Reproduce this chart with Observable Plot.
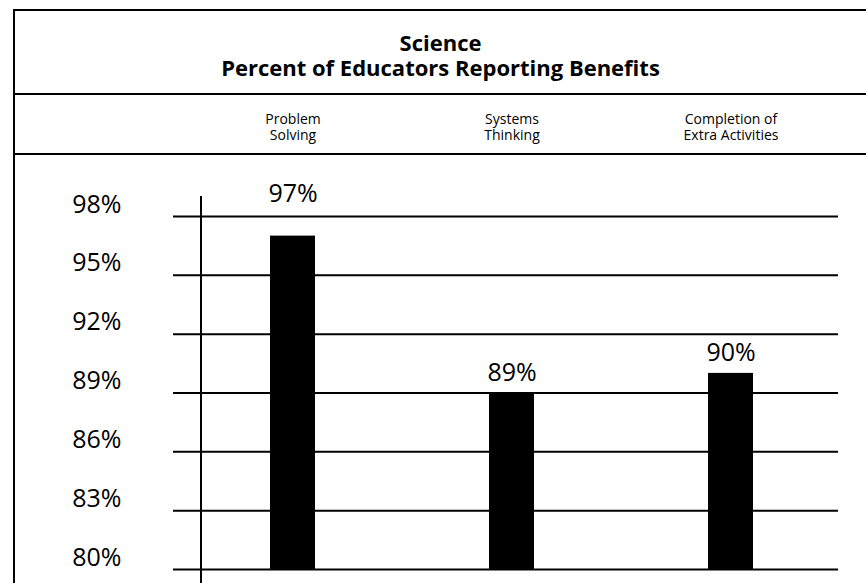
<!DOCTYPE html>
<html><head><meta charset="utf-8">
<script src="https://cdn.jsdelivr.net/npm/d3@7"></script>
<script src="https://cdn.jsdelivr.net/npm/@observablehq/plot@0.6"></script>
<style>
body{margin:0;background:#fff;}
#wrap{position:relative;width:866px;height:583px;overflow:hidden;background:#fff;font-family:"Open Sans",sans-serif;color:#000;}
.hl{position:absolute;background:#000;}
#title{position:absolute;left:15px;right:0;top:30px;text-align:center;font-weight:bold;font-size:22px;line-height:25px;}
#chart{position:absolute;left:0;top:94px;}
</style></head><body>
<div id="wrap">
  <div id="title"><div id="t1"></div><div id="t2"></div></div>
  <div id="chart"></div>
  <div class="hl" style="left:13px;top:9px;width:853px;height:2px"></div>
  <div class="hl" style="left:13px;top:93px;width:853px;height:2px"></div>
  <div class="hl" style="left:13px;top:153px;width:853px;height:2px"></div>
  <div class="hl" style="left:13px;top:9px;width:2px;height:574px"></div>
  <div class="hl" style="left:200px;top:196px;width:2px;height:387px"></div>
</div>
<script>
const titleLine1 = "Science";
const titleLine2 = "Percent of Educators Reporting Benefits";
const categories = ["Problem Solving", "Systems Thinking", "Completion of Extra Activities"];
const headerLabels = ["Problem\nSolving", "Systems\nThinking", "Completion of\nExtra Activities"];
const values = [97, 89, 90];
const valueLabels = ["97%", "89%", "90%"];
const yTicks = [80, 83, 86, 89, 92, 95, 98];

document.getElementById("t1").textContent = titleLine1;
document.getElementById("t2").textContent = titleLine2;

const data = categories.map((c, i) => ({category: c, value: values[i], label: valueLabels[i]}));

const plot = Plot.plot({
  width: 866, height: 489,
  marginTop: 122, marginBottom: 14, marginLeft: 173, marginRight: 28,
  style: {fontFamily: "'Open Sans', sans-serif", background: "transparent", color: "#000", overflow: "visible"},
  x: {type: "band", domain: categories, range: [183, 840], paddingInner: 0.795, paddingOuter: 0.3975, align: 0.5},
  y: {domain: [80, 98]},
  marks: [
    Plot.ruleY(yTicks, {stroke: "#000", strokeWidth: 2}),
    Plot.barY(data, {x: "category", y1: 80, y2: "value", fill: "#000"}),
    Plot.axisY({ticks: yTicks, tickSize: 0, tickPadding: 52, tickFormat: d => d + "%", fontSize: 25, dy: -12, label: null}),
    Plot.axisX({anchor: "top", tickSize: 0, tickPadding: 77, tickFormat: d => headerLabels[categories.indexOf(d)], fontSize: 14, lineHeight: 1.1, label: null}),
    Plot.text(data.filter(d => d.value >= 96), {x: "category", y: "value", text: "label", dy: -42, fontSize: 25}),
    Plot.text(data.filter(d => d.value < 96), {x: "category", y: "value", text: "label", dy: -20, fontSize: 25})
  ]
});
document.getElementById("chart").appendChild(plot);
</script>
</body></html>
